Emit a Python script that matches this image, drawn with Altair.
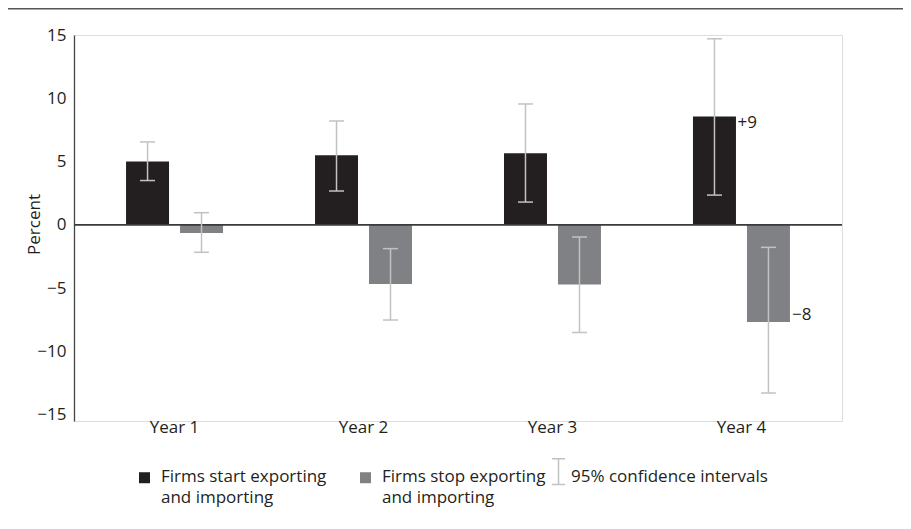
import altair as alt
import pandas as pd

years = ["Year 1", "Year 2", "Year 3", "Year 4"]
series = ["Firms start exporting and importing", "Firms stop exporting and importing"]

start_vals = [5.0, 5.5, 5.65, 8.57]
start_lo = [3.5, 2.67, 1.8, 2.35]
start_hi = [6.55, 8.2, 9.55, 14.7]
start_tags = ["", "", "", "+9"]

stop_vals = [-0.65, -4.67, -4.72, -7.68]
stop_lo = [-2.17, -7.52, -8.5, -13.29]
stop_hi = [0.96, -1.88, -0.96, -1.78]
stop_tags = ["", "", "", "\u22128"]

ci_name = "95% confidence intervals"
y_ticks = [-15, -10, -5, 0, 5, 10, 15]

rows = []
for i, yr in enumerate(years):
    rows.append(dict(year=yr, series=series[0], value=start_vals[i], lo=start_lo[i],
                     hi=start_hi[i], tag=start_tags[i], ci=ci_name))
    rows.append(dict(year=yr, series=series[1], value=stop_vals[i], lo=stop_lo[i],
                     hi=stop_hi[i], tag=stop_tags[i], ci=ci_name))
df = pd.DataFrame(rows)

FONT = "Open Sans"
TXT = "#231f20"
BLACK = "#231f20"
GRAY = "#808184"
ERR = "#c2c2c2"

yscale = alt.Scale(domain=[-15.5, 15], nice=False, zero=False)
xscale = alt.Scale(domain=years, paddingInner=0, paddingOuter=0.032)
offscale = alt.Scale(domain=series, paddingInner=0.2037, paddingOuter=0.852)

base = alt.Chart(df).encode(
    x=alt.X("year:N", scale=xscale, sort=years,
            axis=alt.Axis(title=None, domain=False, ticks=False, labelAngle=0,
                          labelFont=FONT, labelFontSize=17, labelColor=TXT,
                          labelPadding=-2)),
    xOffset=alt.XOffset("series:N", scale=offscale, sort=series),
)

bars = base.mark_bar().encode(
    y=alt.Y("value:Q", scale=yscale,
            axis=alt.Axis(values=y_ticks, grid=False, ticks=False,
                          domainColor="#444444", domainWidth=1.3,
                          labelFont=FONT, labelFontSize=17, labelColor=TXT,
                          labelPadding=8,
                          labelExpr="datum.value < 0 ? '\u2212' + abs(datum.value) : datum.label",
                          title="Percent", titleFont=FONT, titleFontSize=17,
                          titleFontWeight="normal", titleColor=TXT,
                          titleX=-40, titleY=189, titleBaseline="middle")),
    fill=alt.Fill("series:N", sort=series,
                  scale=alt.Scale(domain=series, range=[BLACK, GRAY]),
                  legend=alt.Legend(orient="none", legendX=62, legendY=438,
                                    direction="horizontal", title=None, padding=0,
                                    symbolType="M-1,-1.73H1V0.27H-1Z", symbolSize=121,
                                    symbolStrokeWidth=0, labelOffset=8,
                                    columnPadding=30, labelFont=FONT,
                                    labelFontSize=17, labelColor=TXT,
                                    labelBaseline="alphabetic", labelLimit=400,
                                    labelExpr="[substring(datum.label, 0, indexof(datum.label, ' and ')), substring(datum.label, indexof(datum.label, ' and ') + 1)]")),
)

zero = alt.Chart(pd.DataFrame({"z": [0]})).mark_rule(color="#3a3a3a", strokeWidth=1.6).encode(
    y=alt.Y("z:Q", scale=yscale)
)

err = base.mark_rule(strokeWidth=1.5).encode(
    y=alt.Y("lo:Q", scale=yscale),
    y2="hi:Q",
    stroke=alt.Stroke("ci:N", scale=alt.Scale(domain=[ci_name], range=[ERR]),
                      legend=alt.Legend(orient="none", legendX=476, legendY=438,
                                        title=None, padding=0,
                                        symbolType="M-1.1,-3.8H1.1M0,-3.8V0.5M-1.1,0.5H1.1",
                                        symbolSize=144, symbolStrokeWidth=1.5,
                                        symbolFillColor="transparent",
                                        labelOffset=4, labelFont=FONT, labelFontSize=17,
                                        labelColor=TXT, labelBaseline="alphabetic",
                                        labelLimit=400)),
)
cap_lo = base.mark_tick(color=ERR, size=15, thickness=1.5, opacity=1).encode(
    y=alt.Y("lo:Q", scale=yscale))
cap_hi = base.mark_tick(color=ERR, size=15, thickness=1.5, opacity=1).encode(
    y=alt.Y("hi:Q", scale=yscale))

tag_top = base.transform_filter("datum.tag != '' && datum.value > 0").mark_text(
    align="left", baseline="top", dx=23, dy=-1, font=FONT, fontSize=17, color=TXT
).encode(y=alt.Y("value:Q", scale=yscale), text="tag:N")
tag_bot = base.transform_filter("datum.tag != '' && datum.value < 0").mark_text(
    align="left", baseline="alphabetic", dx=23.5, dy=-2, font=FONT, fontSize=17, color=TXT
).encode(y=alt.Y("value:Q", scale=yscale), text="tag:N")

top_line = alt.Chart(pd.DataFrame({"a": [0]})).mark_rule(color="#555555", strokeWidth=2).encode(
    x=alt.value(-74), x2=alt.value(829), y=alt.value(-26.5)
)

chart = alt.layer(bars, zero, err, cap_lo, cap_hi, tag_top, tag_bot, top_line).properties(
    width=768, height=386,
    autosize=alt.AutoSizeParams(type="none"),
    padding={"left": 66, "top": 27, "right": 61, "bottom": 100},
).configure_view(stroke=None).configure(
    style={"guide-label": {"lineHeight": 21}}
).resolve_scale(y="shared")

chart.save("out.html", embed_options={"renderer": "svg", "actions": False})
